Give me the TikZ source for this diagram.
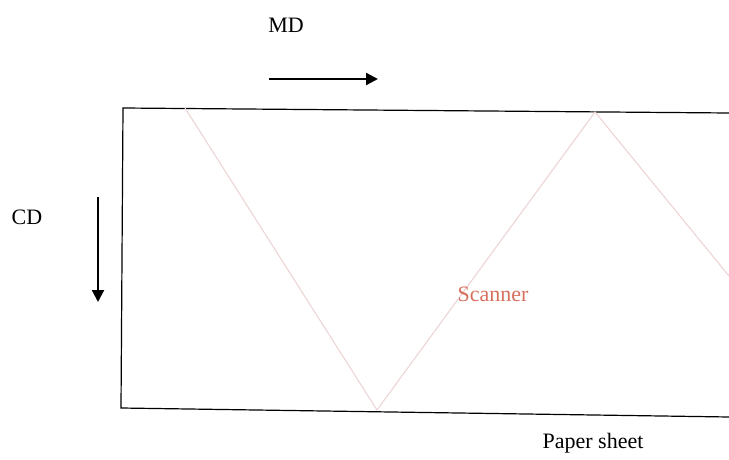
\documentclass[tikz,border=0pt]{standalone}
\usepackage{fontspec}
\setmainfont{Liberation Serif}
\usepackage{xcolor}
\usetikzlibrary{arrows.meta,positioning,calc}
\definecolor{scanline}{RGB}{238,212,212}
\definecolor{scantext}{RGB}{214,112,92}

\begin{document}
\begin{tikzpicture}[
  x=1pt, y=-1pt,
  lbl/.style={inner sep=0pt, font=\fontsize{22}{26}\selectfont},
  sheet/.style={draw=black, line width=1.2pt},
  path/.style={draw=scanline, line width=1.1pt},
  dir/.style={-{Triangle[length=12pt,width=12pt]}, line width=2.2pt}
]
\useasboundingbox (0,0) rectangle (729,460);

% paper sheet (right side runs off the picture)
\coordinate (tr) at (729,113);
\coordinate (tl) at (123,108);
\coordinate (bl) at (121,408);
\coordinate (br) at (729,417);
\draw[sheet] (tr) -- (tl) -- (bl) -- (br);

% scanner path
\coordinate (s0) at (185,108);
\coordinate (s1) at (377,410);
\coordinate (s2) at (595,112);
\coordinate (s3) at (729,276);
\draw[path] (s0) -- (s1) -- (s2) -- (s3);

% directions
\node[lbl] (md) at (286,25) {MD};
\coordinate (mdA) at (269,79);
\coordinate (mdB) at (378,79);
\draw[dir] (mdA) -- (mdB);

\node[lbl] (cd) at (27,217) {CD};
\coordinate (cdA) at (98,197);
\coordinate (cdB) at (98,302);
\draw[dir] (cdA) -- (cdB);

\node[lbl, text=scantext] (scanner) at (493,294) {Scanner};
\node[lbl] (paper) at (593,443) {Paper sheet};
\end{tikzpicture}
\end{document}
